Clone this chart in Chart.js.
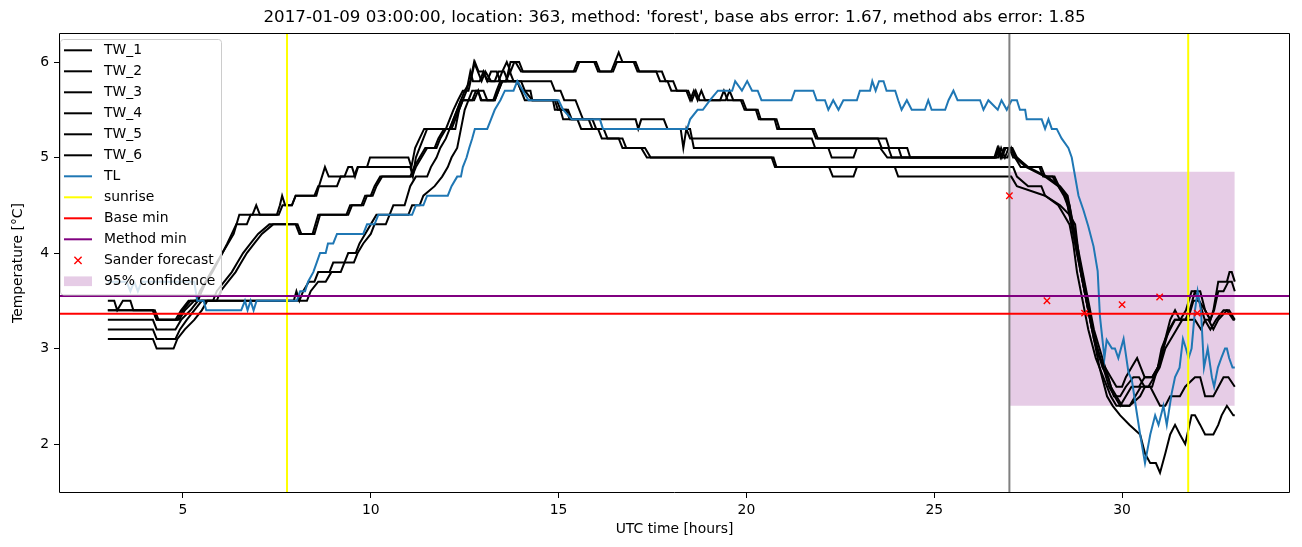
<!DOCTYPE html>
<html><head><meta charset="utf-8">
<script src="https://cdn.jsdelivr.net/npm/chart.js@4.4.1/dist/chart.umd.min.js"></script>
<style>html,body{margin:0;padding:0;background:#fff;}canvas{display:block;}</style>
</head><body>
<canvas id="c" width="1302" height="547"></canvas>
<script>
// ---------- data ----------
const titleText = "2017-01-09 03:00:00, location: 363, method: 'forest', base abs error: 1.67, method abs error: 1.85";
const xTicks = [5, 10, 15, 20, 25, 30];
const yTicks = [2, 3, 4, 5, 6];
const xLimits = [1.70, 34.47];
const yLimits = [1.487, 6.304];

const tw1 = [[3.0,3.5],[3.17,3.5],[3.25,3.4],[3.4,3.5],[3.6,3.5],[3.68,3.4],[4.2,3.4],[4.3,3.3],[4.8,3.3],[4.95,3.4],[5.15,3.5],[5.35,3.5],[5.45,3.6],[5.6,3.7],[5.75,3.8],[5.9,3.9],[6.05,4.0],[6.2,4.1],[6.35,4.2],[6.5,4.4],[6.85,4.4],[6.95,4.5],[7.05,4.4],[7.5,4.4],[7.58,4.5],[7.64,4.6],[7.72,4.5],[7.9,4.5],[8.0,4.6],[8.55,4.6],[8.62,4.7],[8.78,4.9],[8.88,4.8],[9.3,4.8],[9.4,4.9],[9.5,4.9],[9.58,4.8],[9.66,4.9],[9.9,4.9],[9.98,5.0],[11.0,5.0],[11.08,4.9],[11.18,5.1],[11.3,5.2],[11.42,5.3],[12.0,5.3],[12.1,5.4],[12.2,5.5],[12.32,5.6],[12.45,5.7],[12.6,5.7],[12.77,6.0],[12.87,5.9],[13.0,5.9],[13.1,5.8],[13.2,5.9],[13.35,5.9],[13.45,5.8],[13.6,5.8],[13.72,6.0],[13.85,6.0],[14.0,5.9],[15.4,5.9],[15.5,6.0],[15.95,6.0],[16.05,5.9],[16.4,5.9],[16.5,6.0],[16.6,6.1],[16.7,6.0],[17.0,6.0],[17.1,5.9],[17.6,5.9],[17.7,5.8],[17.9,5.8],[18.0,5.7],[18.4,5.7],[18.5,5.6],[18.6,5.7],[18.7,5.6],[18.8,5.7],[18.9,5.6],[19.3,5.6],[19.4,5.7],[19.5,5.6],[19.85,5.6],[19.95,5.5],[20.25,5.5],[20.33,5.4],[20.75,5.4],[20.82,5.3],[21.75,5.3],[21.85,5.2],[23.5,5.2],[23.6,5.1],[24.05,5.1],[24.13,5.0],[26.6,5.0],[26.68,5.1],[26.76,5.0],[26.86,5.1],[27.05,5.1],[27.15,5.0],[27.3,4.9],[27.8,4.9],[27.9,4.8],[28.15,4.8],[28.3,4.7],[28.45,4.6],[28.55,4.5],[28.65,4.3],[28.8,4.0],[28.95,3.7],[29.1,3.4],[29.25,3.1],[29.4,2.9],[29.55,2.8],[29.7,2.7],[29.85,2.6],[30.0,2.6],[30.1,2.7],[30.25,2.8],[30.4,2.9],[30.5,2.8],[30.6,2.7],[30.8,2.7],[30.95,2.8],[31.05,2.9],[31.15,3.1],[31.28,3.3],[31.41,3.4],[31.54,3.3],[31.68,3.3],[31.8,3.4],[31.94,3.6],[32.08,3.6],[32.21,3.4],[32.35,3.3],[32.43,3.4],[32.56,3.7],[32.79,3.7],[32.86,3.8],[32.92,3.8],[33.0,3.7]];
const tw2 = [[3.0,3.4],[4.2,3.4],[4.3,3.3],[4.85,3.3],[5.0,3.4],[5.2,3.5],[5.4,3.5],[5.5,3.6],[5.62,3.7],[5.78,3.8],[5.92,3.9],[6.05,4.0],[6.18,4.1],[6.3,4.2],[6.42,4.3],[6.7,4.3],[6.8,4.4],[7.55,4.4],[7.65,4.5],[7.9,4.5],[8.0,4.6],[8.5,4.6],[8.6,4.7],[9.1,4.7],[9.2,4.8],[9.55,4.8],[9.65,4.9],[11.05,4.9],[11.12,4.8],[11.2,5.0],[11.3,5.1],[11.4,5.2],[11.5,5.3],[12.1,5.3],[12.2,5.4],[12.3,5.5],[12.4,5.6],[12.5,5.7],[12.65,5.8],[12.75,6.0],[12.85,5.9],[12.95,5.8],[13.05,5.9],[13.2,5.8],[13.4,5.8],[13.5,5.9],[13.62,6.0],[13.72,5.9],[13.82,6.0],[13.95,6.0],[14.05,5.9],[15.45,5.9],[15.55,6.0],[16.0,6.0],[16.1,5.9],[16.45,5.9],[16.55,6.0],[17.05,6.0],[17.15,5.9],[17.75,5.9],[17.85,5.8],[18.05,5.8],[18.15,5.7],[18.45,5.7],[18.55,5.6],[18.65,5.7],[18.75,5.6],[19.45,5.6],[19.55,5.7],[19.65,5.6],[19.9,5.6],[20.0,5.5],[20.3,5.5],[20.38,5.4],[20.8,5.4],[20.88,5.3],[21.8,5.3],[21.9,5.2],[23.72,5.2],[23.8,5.1],[24.28,5.1],[24.36,5.0],[26.65,5.0],[26.72,5.1],[26.8,5.0],[26.9,5.1],[27.0,5.1],[27.1,5.0],[27.2,5.0],[27.45,4.9],[27.85,4.9],[27.95,4.8],[28.2,4.8],[28.32,4.7],[28.5,4.6],[28.6,4.5],[28.72,4.2],[28.88,3.9],[29.03,3.6],[29.18,3.3],[29.33,3.0],[29.48,2.8],[29.63,2.7],[29.78,2.5],[29.95,2.5],[30.1,2.6],[30.3,2.7],[30.45,2.7],[30.6,2.6],[30.8,2.6],[30.95,2.8],[31.1,3.0],[31.25,3.2],[31.4,3.3],[31.55,3.3],[31.7,3.4],[31.85,3.6],[31.94,3.6],[32.05,3.5],[32.21,3.4],[32.35,3.3],[32.45,3.4],[32.56,3.6],[32.7,3.6],[32.83,3.7],[32.92,3.7],[33.0,3.6]];
const tw3 = [[3.0,3.3],[4.2,3.3],[4.3,3.2],[4.8,3.2],[4.95,3.3],[5.2,3.4],[5.4,3.5],[5.8,3.5],[5.9,3.6],[6.1,3.7],[6.3,3.8],[6.45,3.9],[6.6,4.0],[6.8,4.1],[7.0,4.2],[7.3,4.3],[8.0,4.3],[8.1,4.2],[8.45,4.2],[8.6,4.4],[9.35,4.4],[9.45,4.5],[9.75,4.5],[9.85,4.6],[10.0,4.6],[10.1,4.7],[10.25,4.8],[11.05,4.8],[11.15,4.9],[11.3,5.0],[11.45,5.1],[11.7,5.1],[11.8,5.2],[11.95,5.3],[12.1,5.3],[12.2,5.4],[12.3,5.5],[12.4,5.6],[12.75,5.6],[12.86,5.7],[12.93,5.6],[13.26,5.6],[13.35,5.7],[13.45,5.8],[14.8,5.8],[14.9,5.7],[15.05,5.7],[15.15,5.6],[15.45,5.6],[15.55,5.5],[15.65,5.4],[17.05,5.4],[17.12,5.3],[17.2,5.4],[17.8,5.4],[17.9,5.3],[18.25,5.3],[18.32,5.1],[18.4,5.3],[18.5,5.2],[21.74,5.2],[21.83,5.1],[23.56,5.1],[23.75,5.0],[26.62,5.0],[26.7,5.1],[26.78,5.0],[26.95,5.0],[27.05,5.1],[27.15,5.0],[27.45,4.9],[27.95,4.8],[28.3,4.7],[28.5,4.6],[28.6,4.4],[28.75,4.1],[28.9,3.8],[29.05,3.5],[29.2,3.2],[29.35,3.0],[29.5,2.8],[29.65,2.6],[29.8,2.5],[29.95,2.4],[30.1,2.5],[30.25,2.6],[30.45,2.6],[30.6,2.7],[30.8,2.7],[30.95,2.8],[31.05,3.0],[31.15,3.1],[31.28,3.2],[31.41,3.3],[31.94,3.3],[32.1,3.2],[32.21,3.3],[32.3,3.3],[32.43,3.2],[32.56,3.3],[32.79,3.4],[32.96,3.3],[33.0,3.3]];
const tw4 = [[3.0,3.4],[4.25,3.4],[4.35,3.3],[4.9,3.3],[5.05,3.4],[5.3,3.5],[5.9,3.5],[6.0,3.6],[6.2,3.7],[6.4,3.8],[6.55,3.9],[6.7,4.0],[6.9,4.1],[7.1,4.2],[7.4,4.3],[8.05,4.3],[8.15,4.2],[8.5,4.2],[8.65,4.4],[9.4,4.4],[9.5,4.5],[9.8,4.5],[9.9,4.6],[10.05,4.6],[10.15,4.7],[10.3,4.8],[11.1,4.8],[11.2,4.9],[11.35,5.0],[11.5,5.1],[11.75,5.1],[11.85,5.2],[12.0,5.3],[12.15,5.3],[12.25,5.4],[12.35,5.5],[12.45,5.6],[12.55,5.7],[12.65,5.9],[12.72,5.8],[12.9,5.8],[13.0,5.9],[13.1,5.8],[13.3,5.8],[13.4,5.9],[13.55,5.9],[13.65,5.8],[13.9,5.8],[14.0,5.7],[14.1,5.6],[14.9,5.6],[14.98,5.5],[15.2,5.5],[15.3,5.4],[15.5,5.4],[15.6,5.3],[18.5,5.3],[18.6,5.1],[22.18,5.1],[22.27,5.0],[22.85,5.0],[22.94,5.1],[23.78,5.1],[23.87,5.0],[26.7,5.0],[26.78,5.1],[26.88,5.0],[26.98,5.1],[27.08,5.1],[27.2,5.0],[27.5,4.9],[28.0,4.8],[28.35,4.7],[28.55,4.6],[28.65,4.4],[28.8,4.1],[28.95,3.8],[29.1,3.5],[29.25,3.2],[29.4,3.0],[29.55,2.8],[29.7,2.6],[29.85,2.5],[30.0,2.4],[30.2,2.4],[30.35,2.5],[30.5,2.6],[30.7,2.6],[30.85,2.7],[31.0,2.8],[31.15,3.0],[31.3,3.1],[31.45,3.2],[31.6,3.3],[31.75,3.3],[31.9,3.5],[32.05,3.5],[32.2,3.3],[32.35,3.2],[32.5,3.3],[32.7,3.4],[32.85,3.4],[33.0,3.3]];
const tw5 = [[3.0,3.2],[4.2,3.2],[4.3,3.1],[4.8,3.1],[4.92,3.2],[5.1,3.3],[5.3,3.4],[5.5,3.5],[7.95,3.5],[8.02,3.6],[8.1,3.5],[8.2,3.6],[8.35,3.7],[8.5,3.7],[8.6,3.8],[8.9,3.8],[9.0,3.9],[9.3,3.9],[9.4,4.0],[9.6,4.0],[9.7,4.1],[9.85,4.2],[10.0,4.3],[10.15,4.4],[10.5,4.4],[10.6,4.5],[10.9,4.5],[11.05,4.7],[11.2,4.8],[11.5,4.8],[11.6,4.9],[11.75,5.0],[11.85,5.1],[12.0,5.2],[12.1,5.3],[12.25,5.3],[12.35,5.5],[12.45,5.6],[12.6,5.6],[12.7,5.7],[12.85,5.7],[12.95,5.6],[13.3,5.6],[13.4,5.7],[13.5,5.8],[13.9,5.8],[14.0,5.7],[14.25,5.7],[14.3,5.6],[14.85,5.6],[14.9,5.5],[15.05,5.5],[15.12,5.4],[15.8,5.4],[15.9,5.3],[16.05,5.3],[16.15,5.2],[16.6,5.2],[16.7,5.1],[17.2,5.1],[17.35,5.0],[20.67,5.0],[20.76,4.9],[22.2,4.9],[22.3,4.8],[22.85,4.8],[22.94,4.9],[27.1,4.9],[27.2,4.8],[27.5,4.7],[27.85,4.7],[27.95,4.6],[28.3,4.5],[28.45,4.4],[28.6,4.3],[28.7,4.1],[28.8,3.8],[28.95,3.5],[29.1,3.2],[29.3,2.9],[29.5,2.7],[29.7,2.5],[29.85,2.4],[30.2,2.4],[30.48,2.5],[30.61,2.6],[30.75,2.6],[31.01,2.4],[31.15,2.4],[31.28,2.5],[31.54,2.5],[31.68,2.6],[31.94,2.7],[32.08,2.7],[32.21,2.5],[32.43,2.5],[32.7,2.7],[32.83,2.7],[33.0,2.6]];
const tw6 = [[3.0,3.1],[4.2,3.1],[4.3,3.0],[4.75,3.0],[4.85,3.1],[5.05,3.2],[5.3,3.3],[5.5,3.4],[5.65,3.5],[8.3,3.5],[8.4,3.6],[8.6,3.7],[8.8,3.7],[8.95,3.8],[9.2,3.8],[9.3,3.9],[9.55,3.9],[9.65,4.0],[9.8,4.1],[10.0,4.2],[10.1,4.3],[10.4,4.3],[10.5,4.4],[11.0,4.4],[11.1,4.5],[11.3,4.5],[11.4,4.6],[11.7,4.7],[11.9,4.8],[12.05,4.9],[12.15,5.0],[12.3,5.1],[12.4,5.3],[12.5,5.5],[12.6,5.6],[12.7,5.6],[12.8,5.7],[13.0,5.7],[13.1,5.6],[13.3,5.6],[13.4,5.7],[13.5,5.8],[13.6,5.8],[13.7,5.9],[13.8,5.8],[14.0,5.8],[14.1,5.7],[14.3,5.6],[14.95,5.6],[15.05,5.5],[15.25,5.5],[15.35,5.4],[15.9,5.4],[16.0,5.3],[16.2,5.3],[16.3,5.2],[16.7,5.2],[16.8,5.1],[17.3,5.1],[17.45,5.0],[20.72,5.0],[20.8,4.9],[23.95,4.9],[24.04,4.8],[27.05,4.8],[27.2,4.7],[27.95,4.6],[28.35,4.5],[28.6,4.4],[28.75,4.3],[28.9,3.8],[29.05,3.5],[29.2,3.2],[29.4,2.8],[29.6,2.5],[29.75,2.4],[29.95,2.3],[30.2,2.2],[30.48,2.1],[30.61,1.9],[30.75,1.8],[30.9,1.8],[31.01,1.7],[31.15,1.9],[31.28,2.1],[31.41,2.2],[31.54,2.1],[31.68,2.0],[31.85,2.3],[31.94,2.3],[32.08,2.2],[32.21,2.1],[32.43,2.1],[32.56,2.2],[32.65,2.3],[32.79,2.4],[32.96,2.3],[33.0,2.3]];
const tl = [[3.0,3.7],[3.5,3.7],[3.6,3.6],[3.7,3.7],[3.8,3.6],[3.9,3.7],[5.3,3.7],[5.38,3.5],[5.55,3.5],[5.62,3.4],[6.55,3.4],[6.65,3.5],[6.72,3.4],[6.8,3.5],[6.88,3.4],[6.96,3.5],[8.03,3.5],[8.12,3.6],[8.25,3.6],[8.33,3.7],[8.47,3.8],[8.56,3.9],[8.65,4.0],[8.8,4.0],[8.86,4.1],[9.0,4.1],[9.1,4.2],[9.8,4.2],[9.9,4.3],[10.1,4.3],[10.2,4.4],[11.1,4.4],[11.2,4.5],[11.4,4.5],[11.5,4.6],[12.05,4.6],[12.15,4.7],[12.3,4.8],[12.4,4.8],[12.45,4.9],[12.55,5.0],[12.62,5.1],[12.7,5.2],[12.77,5.3],[13.1,5.3],[13.2,5.4],[13.3,5.5],[13.45,5.6],[13.57,5.7],[13.8,5.7],[13.9,5.8],[14.05,5.7],[14.2,5.6],[15.0,5.6],[15.12,5.5],[15.35,5.4],[16.1,5.4],[16.18,5.3],[18.42,5.3],[18.5,5.4],[18.7,5.5],[18.84,5.5],[19.03,5.6],[19.24,5.7],[19.62,5.7],[19.7,5.8],[19.88,5.7],[20.02,5.8],[20.15,5.7],[20.3,5.7],[20.4,5.6],[21.2,5.6],[21.29,5.7],[21.78,5.7],[21.87,5.6],[22.09,5.6],[22.18,5.5],[22.31,5.6],[22.45,5.5],[22.58,5.6],[22.94,5.6],[23.02,5.7],[23.29,5.7],[23.35,5.8],[23.44,5.7],[23.53,5.8],[23.65,5.8],[23.73,5.7],[23.96,5.7],[24.04,5.6],[24.13,5.5],[24.27,5.6],[24.4,5.5],[24.75,5.5],[24.84,5.6],[24.93,5.5],[25.29,5.5],[25.38,5.6],[25.51,5.7],[25.62,5.6],[26.22,5.6],[26.31,5.5],[26.44,5.6],[26.69,5.5],[26.79,5.6],[26.93,5.5],[27.06,5.6],[27.2,5.6],[27.28,5.5],[27.42,5.5],[27.46,5.4],[27.86,5.4],[27.95,5.3],[28.04,5.4],[28.13,5.3],[28.26,5.3],[28.39,5.2],[28.57,5.1],[28.66,5.0],[28.84,4.6],[28.97,4.45],[29.1,4.28],[29.24,4.07],[29.35,3.81],[29.41,3.34],[29.53,2.9],[29.59,3.09],[29.73,3.0],[29.81,3.0],[29.9,2.9],[30.04,3.1],[30.17,2.75],[30.26,2.67],[30.39,2.33],[30.48,2.1],[30.61,1.8],[30.75,2.1],[30.88,2.3],[30.97,2.2],[31.1,2.4],[31.19,2.2],[31.32,2.53],[31.41,2.7],[31.53,2.8],[31.62,3.1],[31.7,3.0],[31.77,2.9],[31.85,3.0],[31.94,3.4],[32.01,3.6],[32.1,3.4],[32.18,2.8],[32.28,3.0],[32.39,2.7],[32.45,2.6],[32.55,2.8],[32.64,2.9],[32.74,3.0],[32.79,3.0],[32.85,2.9],[32.94,2.8],[33.0,2.8]];

const sanderT = [27, 28, 29, 30, 31, 32];
const sanderV = [4.60, 3.50, 3.37, 3.46, 3.54, 3.37];
const sunriseT = [7.77, 31.76];
const forecastT = 27;
const baseMin = 3.365;
const methodMin = 3.55;
const confT = [27, 33];
const confLo = 2.40;
const confHi = 4.85;

// ---------- chart ----------
const FONT = '"DejaVu Sans", sans-serif';
const pts = arr => arr.map(p => ({x: p[0], y: p[1]}));
const twSeries = [tw1, tw2, tw3, tw4, tw5, tw6];
const datasets = [];
twSeries.forEach((s, i) => datasets.push({label: 'TW_' + (i + 1), data: pts(s), borderColor: '#000000', borderWidth: 2, pointRadius: 0, tension: 0, fill: false, order: 30 - i}));
datasets.push({label: 'TL', data: pts(tl), borderColor: '#1f77b4', borderWidth: 2, pointRadius: 0, fill: false, order: 20});
sunriseT.forEach(t => datasets.push({label: 'sunrise', data: [{x: t, y: yLimits[0]}, {x: t, y: yLimits[1]}], borderColor: '#ffff00', borderWidth: 2, pointRadius: 0, fill: false, order: 19}));
datasets.push({label: 'forecast', data: [{x: forecastT, y: yLimits[0]}, {x: forecastT, y: yLimits[1]}], borderColor: '#808080', borderWidth: 2, pointRadius: 0, fill: false, order: 18});
datasets.push({label: 'Base min', data: [{x: xLimits[0], y: baseMin}, {x: xLimits[1], y: baseMin}], borderColor: '#ff0000', borderWidth: 2, pointRadius: 0, fill: false, order: 17});
datasets.push({label: 'Method min', data: [{x: xLimits[0], y: methodMin}, {x: xLimits[1], y: methodMin}], borderColor: '#800080', borderWidth: 2, pointRadius: 0, fill: false, order: 16});
datasets.push({label: 'Sander forecast', data: sanderT.map((t, i) => ({x: t, y: sanderV[i]})), showLine: false, pointStyle: 'crossRot', pointRadius: 4.5, pointBorderColor: '#ff0000', pointBorderWidth: 1.4, borderColor: '#ff0000', order: 15});
datasets.push({label: '95% confidence', data: confT.map(t => ({x: t, y: confHi})), borderWidth: 0, borderColor: 'rgba(0,0,0,0)', pointRadius: 0, backgroundColor: 'rgba(128,0,128,0.2)', fill: '+1', order: 50});
datasets.push({label: 'conf lo', data: confT.map(t => ({x: t, y: confLo})), borderWidth: 0, borderColor: 'rgba(0,0,0,0)', pointRadius: 0, fill: false, order: 51});

const legendItems = [
  ...[1,2,3,4,5,6].map(i => ({label: 'TW_' + i, kind: 'line', color: '#000000'})),
  {label: 'TL', kind: 'line', color: '#1f77b4'},
  {label: 'sunrise', kind: 'line', color: '#ffff00'},
  {label: 'Base min', kind: 'line', color: '#ff0000'},
  {label: 'Method min', kind: 'line', color: '#800080'},
  {label: 'Sander forecast', kind: 'marker', color: '#ff0000'},
  {label: '95% confidence', kind: 'patch', color: 'rgba(128,0,128,0.2)'}
];

const decor = {
  id: 'decor',
  afterDraw(chart) {
    const {ctx, chartArea: a} = chart;
    ctx.save();
    // axes frame (spines)
    const L = Math.round(a.left) + 0.5, R = Math.round(a.right) - 0.5, T = Math.round(a.top) + 0.5, B = Math.round(a.bottom) - 0.5;
    ctx.strokeStyle = '#000'; ctx.lineWidth = 1;
    ctx.beginPath();
    ctx.moveTo(L, T); ctx.lineTo(R, T); ctx.lineTo(R, B); ctx.lineTo(L, B); ctx.closePath();
    ctx.stroke();
    // title
    ctx.fillStyle = '#000';
    ctx.font = '16.7px ' + FONT;
    ctx.textAlign = 'center'; ctx.textBaseline = 'middle';
    ctx.fillText(titleText, (a.left + a.right) / 2, 18);
    // legend
    const bx = a.left + 1.5, by = a.top + 6.5, bw = 161, bh = 255.5, r = 3;
    ctx.beginPath();
    ctx.moveTo(bx + r, by); ctx.lineTo(bx + bw - r, by); ctx.quadraticCurveTo(bx + bw, by, bx + bw, by + r);
    ctx.lineTo(bx + bw, by + bh - r); ctx.quadraticCurveTo(bx + bw, by + bh, bx + bw - r, by + bh);
    ctx.lineTo(bx + r, by + bh); ctx.quadraticCurveTo(bx, by + bh, bx, by + bh - r);
    ctx.lineTo(bx, by + r); ctx.quadraticCurveTo(bx, by, bx + r, by); ctx.closePath();
    ctx.fillStyle = 'rgba(255,255,255,0.8)'; ctx.fill();
    ctx.strokeStyle = '#cccccc'; ctx.lineWidth = 1; ctx.stroke();
    ctx.font = '13.9px ' + FONT;
    ctx.textAlign = 'left'; ctx.textBaseline = 'middle';
    legendItems.forEach((it, i) => {
      const y = a.top + 17.3 + i * 21;
      const hx0 = a.left + 5, hx1 = a.left + 33;
      if (it.kind === 'line') {
        ctx.strokeStyle = it.color; ctx.lineWidth = 2;
        ctx.beginPath(); ctx.moveTo(hx0, y); ctx.lineTo(hx1, y); ctx.stroke();
      } else if (it.kind === 'marker') {
        const cx = (hx0 + hx1) / 2, s = 3.6;
        ctx.strokeStyle = it.color; ctx.lineWidth = 1.4;
        ctx.beginPath(); ctx.moveTo(cx - s, y - s); ctx.lineTo(cx + s, y + s); ctx.moveTo(cx - s, y + s); ctx.lineTo(cx + s, y - s); ctx.stroke();
      } else {
        ctx.fillStyle = it.color; ctx.fillRect(hx0, y - 4.9, hx1 - hx0, 9.7);
      }
      ctx.fillStyle = '#000';
      ctx.fillText(it.label, a.left + 45, y + 0.5);
    });
    ctx.restore();
  }
};

const tickFont = {family: FONT, size: 13.9};
new Chart(document.getElementById('c'), {
  type: 'line',
  data: {datasets},
  options: {
    responsive: false, animation: false, devicePixelRatio: 1,
    layout: {padding: {left: 0, right: 12, top: 33, bottom: 0}},
    plugins: {legend: {display: false}, tooltip: {enabled: false}, title: {display: false}, filler: {drawTime: 'beforeDatasetsDraw'}},
    elements: {line: {tension: 0}},
    scales: {
      x: {
        type: 'linear', min: xLimits[0], max: xLimits[1],
        afterBuildTicks: s => { s.ticks = xTicks.map(v => ({value: v})); },
        afterFit: s => { s.height = 54; },
        ticks: {font: tickFont, color: '#000', padding: 4, maxRotation: 0, autoSkip: false, callback: v => String(v)},
        grid: {drawOnChartArea: false, drawTicks: true, tickLength: 5, color: '#000', lineWidth: 1},
        border: {display: false},
        title: {display: true, text: 'UTC time [hours]', font: {family: FONT, size: 13.9}, color: '#000', padding: {top: 0, bottom: 9}}
      },
      y: {
        type: 'linear', min: yLimits[0], max: yLimits[1],
        afterBuildTicks: s => { s.ticks = yTicks.map(v => ({value: v})); },
        afterFit: s => { s.width = 59; },
        ticks: {font: tickFont, color: '#000', padding: 5, autoSkip: false, callback: v => String(v)},
        grid: {drawOnChartArea: false, drawTicks: true, tickLength: 5, color: '#000', lineWidth: 1},
        border: {display: false},
        title: {display: true, text: 'Temperature [°C]', font: {family: FONT, size: 13.9}, color: '#000', padding: {top: 10, bottom: 0}}
      }
    }
  },
  plugins: [decor]
});
</script>
</body></html>
